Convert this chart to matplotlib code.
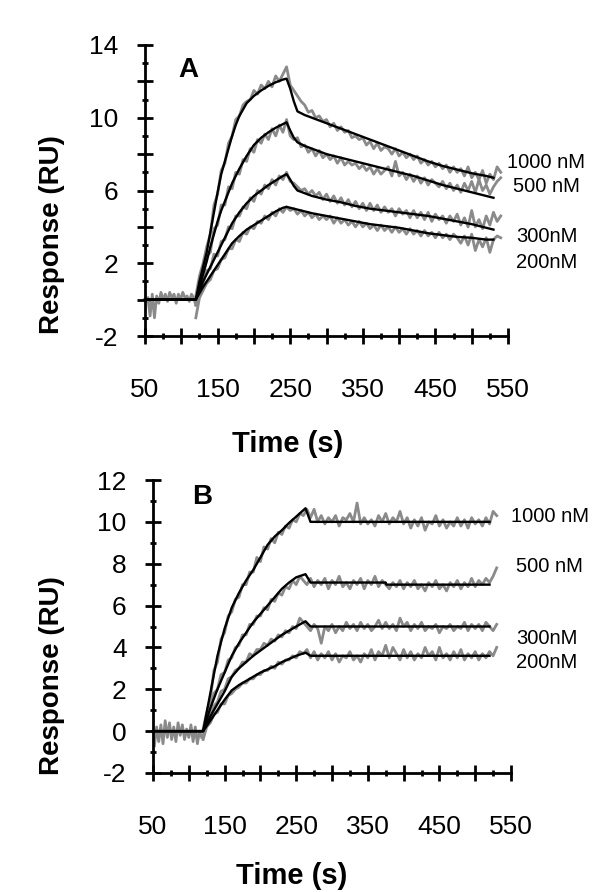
import matplotlib
matplotlib.use("Agg")
import matplotlib.pyplot as plt
from matplotlib.ticker import MultipleLocator, FuncFormatter

# ---------------- Panel A data ----------------
a_base_t = [54, 57, 60, 63, 66, 69, 72, 75, 78, 81, 84, 87, 90, 93, 96, 99, 102, 105, 108, 111, 114, 117, 120]
a_base_y = [0.1, -0.9, 0.3, -1.0, 0.2, -0.2, 0.4, 0.0, 0.3, -0.1, 0.4, 0.1, 0.3, -0.2, 0.3, 0.0, 0.4, 0.1, 0.2, -0.1, 0.3, 0.1, -0.3]

a_data_t = list(range(120, 545, 5))
a_data_1000 = [0.2, 1.3, 2.0, 2.9, 3.6, 5.2, 5.8, 7.1, 7.5, 8.6, 9.0, 9.9, 10.1, 10.7, 10.9, 11.0, 11.5, 11.3, 11.8, 11.6,
               12.0, 11.7, 12.3, 12.0, 12.4, 12.8, 11.8, 11.5, 11.2, 10.9, 10.7, 10.3, 10.4, 10.0, 10.1, 9.8, 9.9, 9.5, 9.7, 9.3,
               9.5, 9.2, 9.3, 8.9, 9.0, 8.8, 8.9, 8.5, 8.7, 8.3, 8.6, 8.2, 8.4, 8.3, 8.0, 8.3, 7.9, 8.1, 7.8, 8.0,
               7.7, 7.9, 7.5, 7.7, 7.4, 7.6, 7.3, 7.5, 7.2, 7.4, 7.0, 7.3, 7.0, 7.2, 6.8, 7.3, 6.7, 7.0, 6.6, 7.1,
               6.4, 6.9, 6.6, 7.3, 7.0]
a_data_500 = [0.0, 0.9, 1.2, 2.4, 2.6, 3.9, 4.1, 5.2, 5.2, 6.2, 6.1, 7.0, 6.9, 7.7, 7.6, 8.3, 8.1, 8.8, 8.6, 9.1,
              8.8, 9.4, 9.0, 9.6, 9.2, 9.9, 9.0, 8.8, 8.9, 8.4, 8.5, 8.1, 8.3, 7.9, 8.2, 7.8, 8.0, 7.7, 7.9, 7.5,
              7.8, 7.4, 7.6, 7.4, 7.5, 7.2, 7.4, 7.1, 7.3, 6.9, 7.2, 6.9, 7.1, 7.3, 6.8, 7.6, 6.8, 7.0, 6.6, 6.9,
              6.5, 6.8, 6.4, 6.7, 6.3, 6.6, 6.4, 6.2, 6.5, 6.1, 6.4, 6.0, 6.3, 5.9, 6.4, 6.0, 6.5, 5.9, 6.6, 6.0,
              6.3, 5.8, 6.2, 6.5, 6.7]
a_data_300 = [-0.3, 0.4, 0.9, 1.6, 1.7, 2.5, 2.4, 3.2, 3.3, 4.0, 3.9, 4.6, 4.6, 5.1, 5.0, 5.6, 5.4, 6.0, 5.8, 6.3,
              6.1, 6.6, 6.3, 6.8, 6.6, 7.0, 6.5, 6.4, 6.2, 6.0, 6.1, 5.8, 6.0, 5.7, 5.9, 5.5, 5.8, 5.4, 5.7, 5.3,
              5.6, 5.2, 5.5, 5.1, 5.4, 5.0, 5.3, 4.9, 5.3, 4.9, 5.2, 4.8, 5.1, 4.8, 5.0, 4.6, 5.0, 4.7, 4.9, 4.5,
              4.9, 4.5, 4.8, 4.4, 4.8, 4.3, 4.7, 4.4, 4.6, 4.2, 4.6, 4.3, 4.7, 4.1, 4.5, 4.0, 4.9, 4.0, 4.4, 3.9,
              4.6, 4.1, 4.8, 4.3, 4.6]
a_data_200 = [-1.0, 0.1, 0.5, 0.9, 1.1, 1.6, 1.7, 2.2, 2.3, 2.8, 2.8, 3.3, 3.2, 3.7, 3.6, 4.0, 3.9, 4.3, 4.2, 4.6,
              4.4, 4.8, 4.6, 5.0, 4.8, 5.1, 4.9, 5.0, 4.7, 4.9, 4.6, 4.8, 4.5, 4.7, 4.4, 4.6, 4.4, 4.6, 4.2, 4.5,
              4.2, 4.4, 4.1, 4.3, 4.0, 4.3, 4.0, 4.2, 3.9, 4.1, 3.8, 4.1, 3.8, 4.0, 3.7, 4.0, 3.7, 3.9, 3.6, 3.9,
              3.6, 3.8, 3.5, 3.8, 3.5, 3.7, 3.4, 3.7, 3.4, 3.6, 3.3, 3.6, 3.4, 3.1, 3.5, 3.0, 3.6, 2.7, 3.3, 2.9,
              3.4, 2.6, 3.3, 3.5, 3.4]

a_fit_t = [50, 120, 125, 130, 135, 140, 145, 150, 155, 160, 165, 170, 175, 180, 190, 200, 210, 220, 230, 240, 245,
           250, 255, 260, 270, 280, 300, 320, 340, 360, 380, 400, 420, 440, 460, 480, 500, 520, 530]
a_fit_1000 = [0, 0, 1.0, 1.8, 2.6, 3.7, 4.8, 5.9, 6.9, 7.6, 8.3, 9.0, 9.6, 10.1, 10.8, 11.2, 11.5, 11.75, 11.95, 12.1, 12.15,
              11.6, 10.9, 10.35, 10.15, 10.0, 9.7, 9.4, 9.1, 8.8, 8.5, 8.2, 7.9, 7.6, 7.35, 7.15, 6.95, 6.8, 6.7]
a_fit_500 = [0, 0, 0.7, 1.4, 2.1, 2.9, 3.6, 4.3, 4.9, 5.4, 5.9, 6.4, 6.8, 7.2, 7.9, 8.5, 8.9, 9.2, 9.45, 9.65, 9.75,
             9.3, 8.9, 8.65, 8.45, 8.3, 8.0, 7.8, 7.6, 7.4, 7.2, 7.0, 6.8, 6.55, 6.3, 6.1, 5.9, 5.7, 5.6]
a_fit_300 = [0, 0, 0.5, 1.0, 1.4, 1.8, 2.2, 2.6, 3.0, 3.4, 3.8, 4.2, 4.5, 4.8, 5.3, 5.7, 6.0, 6.3, 6.55, 6.8, 6.9,
             6.6, 6.25, 6.0, 5.85, 5.7, 5.5, 5.35, 5.15, 5.0, 4.9, 4.8, 4.7, 4.6, 4.45, 4.3, 4.15, 3.95, 3.85]
a_fit_200 = [0, 0, 0.35, 0.7, 1.0, 1.3, 1.6, 1.9, 2.2, 2.5, 2.8, 3.1, 3.3, 3.5, 3.85, 4.1, 4.35, 4.6, 4.85, 5.05, 5.1,
             5.05, 5.0, 4.95, 4.85, 4.75, 4.6, 4.45, 4.3, 4.15, 4.05, 3.95, 3.8, 3.65, 3.55, 3.45, 3.4, 3.3, 3.3]

# ---------------- Panel B data ----------------
b_base_t = [52, 55, 58, 61, 64, 67, 70, 73, 76, 79, 82, 85, 88, 91, 94, 97, 100, 103, 106, 109, 112, 115, 118]
b_base_y = [-0.7, 0.2, -0.5, 0.3, -0.6, 0.5, -0.3, 0.4, -0.4, 0.2, -0.5, 0.4, -0.2, 0.3, -0.4, 0.1, -0.3, 0.3, -0.5, 0.2, -0.6, 0.0, -0.3]

b_data_t = list(range(120, 535, 5))
b_data_1000 = [0.1, 0.9, 1.5, 2.9, 3.3, 4.4, 4.7, 5.5, 5.7, 6.3, 6.4, 7.0, 7.0, 7.6, 7.6, 8.3, 8.1, 8.8, 8.7, 9.2,
               9.0, 9.5, 9.4, 9.8, 9.7, 10.1, 10.0, 10.4, 10.3, 10.6, 10.2, 10.6, 10.0, 10.3, 9.9, 10.2, 10.0, 10.3, 9.8, 10.2,
               10.1, 10.4, 10.0, 10.9, 9.9, 10.2, 9.9, 10.1, 9.8, 10.3, 10.0, 10.4, 9.9, 10.2, 10.0, 10.5, 9.9, 10.2, 9.7, 10.1,
               9.8, 10.2, 9.6, 10.0, 9.9, 10.3, 9.8, 10.1, 9.7, 10.0, 9.8, 10.2, 9.8, 10.1, 9.7, 10.2, 9.9, 10.1, 9.8, 10.2,
               9.9, 10.5, 10.3]
b_data_500 = [0.0, 0.5, 1.0, 1.8, 2.0, 2.7, 2.8, 3.4, 3.5, 4.0, 4.1, 4.6, 4.6, 5.1, 5.1, 5.5, 5.5, 5.9, 5.8, 6.3,
              6.2, 6.6, 6.5, 6.9, 6.8, 7.2, 7.0, 7.4, 7.2, 7.0, 7.3, 6.9, 7.2, 7.0, 7.3, 6.8, 7.2, 7.0, 7.4, 6.9,
              7.1, 6.8, 7.2, 7.0, 7.3, 6.8, 7.2, 7.0, 7.4, 6.9, 7.2, 7.0, 6.8, 7.1, 6.9, 7.2, 6.8, 7.1, 6.9, 7.2,
              6.8, 7.0, 6.7, 7.1, 6.9, 7.2, 6.8, 7.0, 6.7, 7.1, 6.9, 7.2, 6.8, 7.1, 6.9, 7.3, 6.9, 7.2, 7.0, 7.3,
              7.1, 7.4, 7.8]
b_data_300 = [-0.2, 0.3, 0.7, 1.2, 1.4, 1.9, 2.0, 2.5, 2.6, 2.9, 3.0, 3.3, 3.3, 3.7, 3.6, 3.9, 3.9, 4.2, 4.1, 4.4,
              4.3, 4.6, 4.5, 4.8, 4.7, 5.0, 4.9, 5.4, 5.2, 5.0, 4.8, 5.1, 4.9, 4.2, 5.0, 4.8, 5.1, 4.7, 5.0, 4.8,
              5.2, 4.9, 5.1, 4.8, 5.2, 4.9, 5.1, 4.8, 5.0, 5.3, 4.9, 5.2, 4.9, 5.1, 4.8, 5.4, 5.0, 5.2, 4.8, 5.1,
              4.9, 5.2, 4.8, 5.0, 4.9, 5.1, 4.7, 5.0, 4.9, 5.1, 4.8, 5.0, 4.9, 5.2, 4.8, 5.1, 4.9, 5.1, 4.8, 5.2,
              5.0, 4.8, 5.1]
b_data_200 = [-0.4, 0.2, 0.4, 0.8, 0.9, 1.3, 1.3, 1.7, 1.8, 2.0, 2.1, 2.3, 2.3, 2.5, 2.5, 2.7, 2.7, 2.9, 2.9, 3.1,
              3.0, 3.3, 3.2, 3.4, 3.4, 3.6, 3.5, 3.8, 3.7, 3.9, 3.5, 3.8, 3.4, 3.7, 3.5, 3.8, 3.4, 3.7, 3.3, 3.6,
              3.5, 3.8, 3.4, 3.6, 3.3, 3.7, 3.5, 3.9, 3.4, 3.8, 3.6, 4.1, 3.5, 4.0, 3.7, 3.4, 3.9, 3.5, 3.8, 3.4,
              3.7, 3.5, 4.0, 3.6, 3.8, 3.4, 4.0, 3.5, 3.7, 3.4, 3.8, 3.5, 3.9, 3.4, 3.7, 3.5, 3.8, 3.4, 3.7, 3.5,
              3.8, 3.6, 4.0]

b_fit_t = [50, 120, 130, 140, 150, 160, 170, 180, 190, 200, 210, 220, 230, 240, 250, 263, 270, 375, 376, 520]
b_fit_1000 = [0, 0, 1.8, 3.6, 4.9, 5.9, 6.6, 7.2, 7.7, 8.3, 8.9, 9.3, 9.6, 9.95, 10.25, 10.65, 10.0, 10.0, 10.0, 10.0]
b_fit_500 = [0, 0, 1.1, 2.0, 2.8, 3.6, 4.2, 4.7, 5.2, 5.6, 6.0, 6.4, 6.8, 7.1, 7.35, 7.5, 7.1, 7.1, 7.0, 7.0]
b_fit_300 = [0, 0, 0.7, 1.3, 1.9, 2.6, 3.0, 3.3, 3.6, 3.85, 4.1, 4.35, 4.6, 4.8, 5.0, 5.25, 5.0, 5.0, 5.0, 5.0]
b_fit_200 = [0, 0, 0.5, 1.0, 1.5, 1.95, 2.2, 2.4, 2.6, 2.8, 2.95, 3.1, 3.3, 3.45, 3.6, 3.75, 3.6, 3.6, 3.6, 3.6]

conc_labels = ["1000 nM", "500 nM", "300nM", "200nM"]
a_ylabels = [-2, 2, 6, 10, 14]
b_ylabels = [-2, 0, 2, 4, 6, 8, 10, 12]
x_labels = [50, 150, 250, 350, 450, 550]

W, H = 600, 892
fig = plt.figure(figsize=(W / 100, H / 100), dpi=100)
FONT = "Liberation Sans"
GRAY = "#8a8a8a"


def px(x, y):
    return x / W, 1 - y / H


def style_axes(ax, ymin, ymax, ylabs):
    ax.set_xlim(50, 550)
    ax.set_ylim(ymin, ymax)
    for s in ("top", "right"):
        ax.spines[s].set_visible(False)
    for s in ("left", "bottom"):
        ax.spines[s].set_linewidth(2.0)
    ax.xaxis.set_major_locator(MultipleLocator(50))
    ax.xaxis.set_minor_locator(MultipleLocator(25))
    ax.yaxis.set_major_locator(MultipleLocator(2))
    ax.yaxis.set_minor_locator(MultipleLocator(1))
    ax.xaxis.set_major_formatter(FuncFormatter(lambda v, p: f"{int(round(v))}" if int(round(v)) in x_labels else ""))
    ax.yaxis.set_major_formatter(FuncFormatter(lambda v, p: f"{int(round(v))}" if int(round(v)) in ylabs else ""))
    ax.tick_params(which="major", direction="inout", length=12, width=2.0, labelsize=19)
    ax.tick_params(which="minor", direction="inout", length=5, width=2.0)
    ax.tick_params(axis="x", which="major", pad=24)
    ax.tick_params(axis="y", which="major", pad=13)
    for lab in ax.get_xticklabels() + ax.get_yticklabels():
        lab.set_fontfamily(FONT)
    ax.patch.set_visible(False)


# Panel A
axA = fig.add_axes([145 / W, 1 - 336 / H, 363 / W, 291 / H])
axA.plot(a_base_t, a_base_y, color=GRAY, lw=2.0, clip_on=False)
for d in (a_data_1000, a_data_500, a_data_300, a_data_200):
    axA.plot(a_data_t, d, color=GRAY, lw=2.0, clip_on=False)
for f in (a_fit_1000, a_fit_500, a_fit_300, a_fit_200):
    axA.plot(a_fit_t, f, color="black", lw=1.7, clip_on=False)
style_axes(axA, -2, 14, a_ylabels)

# Panel B
axB = fig.add_axes([153 / W, 1 - 773 / H, 358 / W, 293 / H])
axB.plot(b_base_t, b_base_y, color=GRAY, lw=2.0, clip_on=False)
for d in (b_data_1000, b_data_500, b_data_300, b_data_200):
    axB.plot(b_data_t, d, color=GRAY, lw=2.0, clip_on=False)
for f in (b_fit_1000, b_fit_500, b_fit_300, b_fit_200):
    axB.plot(b_fit_t, f, color="black", lw=1.7, clip_on=False)
style_axes(axB, -2, 12, b_ylabels)

# Axis labels
for (yc, xl) in ((235, (288, 444)), (676, (292, 876))):
    fig.text(*px(52, yc), "Response (RU)", rotation=90, ha="center", va="center",
             fontsize=20, fontweight="bold", family=FONT)
    fig.text(*px(*xl), "Time (s)", ha="center", va="center",
             fontsize=21, fontweight="bold", family=FONT)

# Panel letters
fig.text(*px(188, 70), "A", ha="center", va="center", fontsize=20, fontweight="bold", family=FONT)
fig.text(*px(202, 497), "B", ha="center", va="center", fontsize=20, fontweight="bold", family=FONT)

# Concentration labels
a_pos = [(507, 162), (513, 187), (516, 237), (516, 262)]
b_pos = [(511, 517), (516, 566), (516, 638), (516, 662)]
for lab, (x, y) in zip(conc_labels, a_pos):
    fig.text(*px(x, y), lab, ha="left", va="center", fontsize=14.5, family=FONT)
for lab, (x, y) in zip(conc_labels, b_pos):
    fig.text(*px(x, y), lab, ha="left", va="center", fontsize=14.5, family=FONT)

fig.savefig("out.png", dpi=100)
